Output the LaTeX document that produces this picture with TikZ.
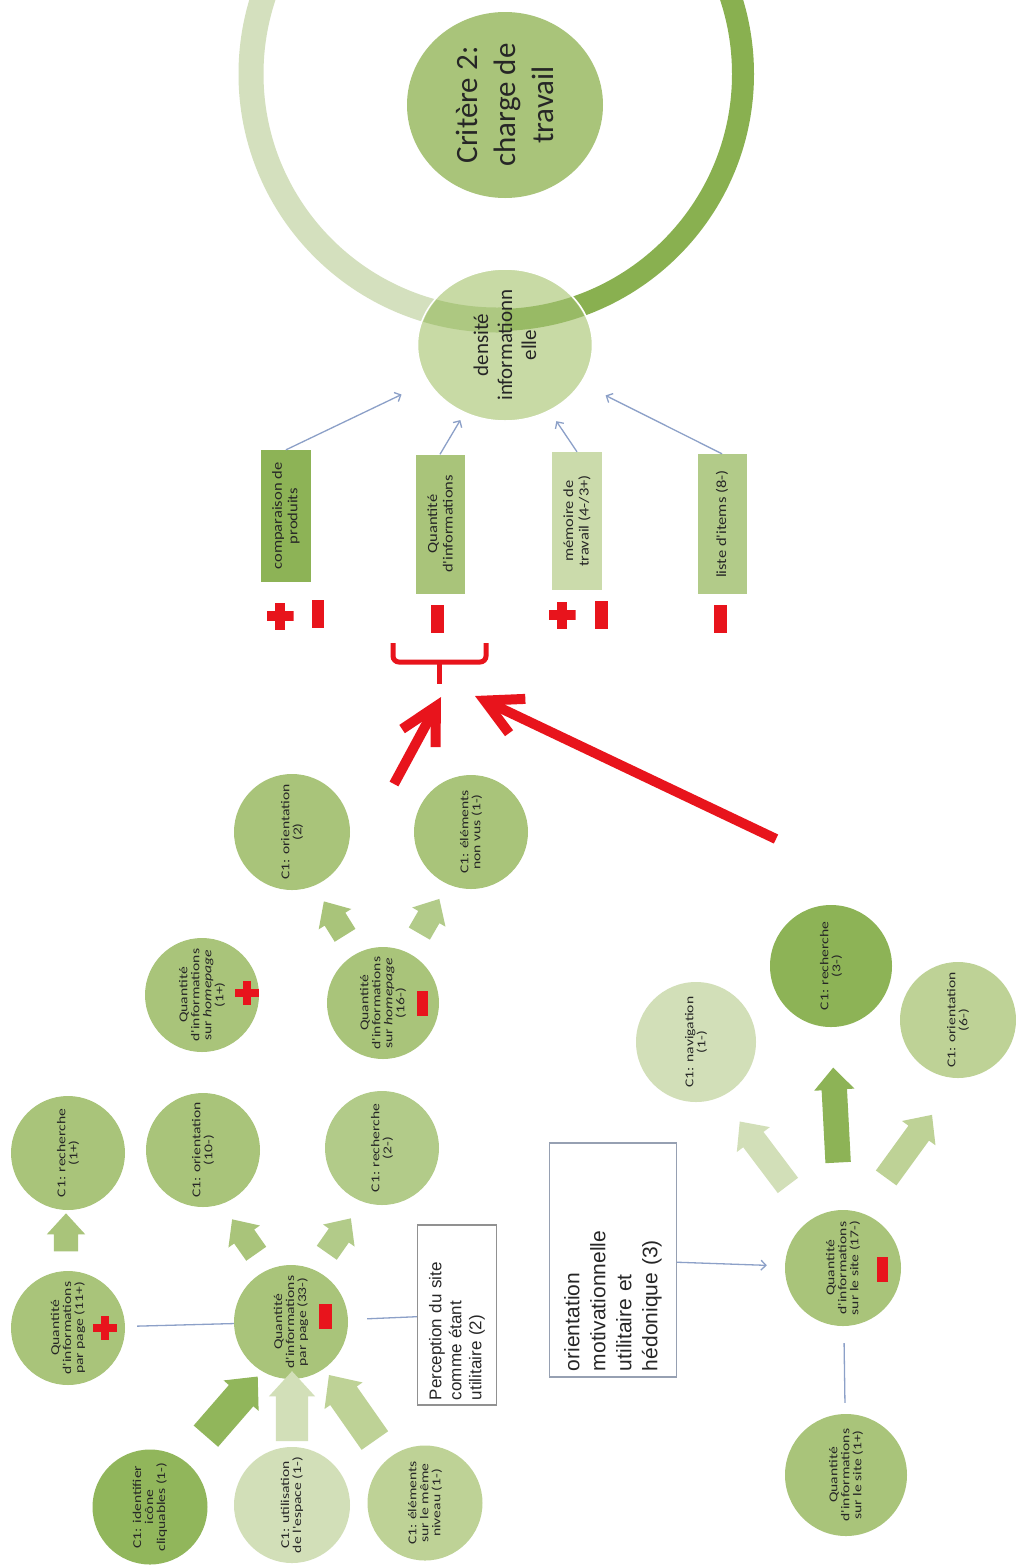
\documentclass[tikz,border=0pt]{standalone}
\usepackage{fontspec}
\setmainfont{Carlito}
\newfontfamily\arialf{Liberation Sans}
\newfontfamily\cstretch[FakeStretch=1.3]{Carlito}
\newfontfamily\bstretch[FakeStretch=1.18]{Carlito}
\usetikzlibrary{shapes.geometric,shapes.arrows,arrows.meta}
\definecolor{gmid}{RGB}{169,196,122}
\definecolor{gmidl}{RGB}{178,203,137}
\definecolor{gdark}{RGB}{141,179,86}
\definecolor{glight}{RGB}{210,223,184}
\definecolor{glmid}{RGB}{190,210,150}
\definecolor{gdens}{RGB}{200,218,165}
\definecolor{ringl}{RGB}{212,224,190}
\definecolor{ringd}{RGB}{137,176,80}
\definecolor{connblue}{RGB}{140,160,200}
\definecolor{boxgray}{RGB}{145,145,145}
\definecolor{boxblue}{RGB}{150,160,178}
\definecolor{redc}{RGB}{232,20,28}
\begin{document}
\begin{tikzpicture}[x=1pt,y=-1pt,
  circ/.style={circle, minimum size=#1, inner sep=0pt, rotate=90, align=center,
    font=\cstretch\fontsize{12}{12}\selectfont, text=black!85},
  gbox/.style={rectangle, inner sep=2pt, rotate=90, align=center,
    font=\bstretch\fontsize{14}{15.5}\selectfont, text=black!85},
  fat/.style={single arrow, draw=none, inner xsep=0pt, minimum width=0pt, single arrow tip angle=85},
  redbar/.style={rectangle, fill=redc, inner sep=0pt},
  redplus/.style={rectangle, inner sep=0pt, minimum size=#1,
    path picture={
      \fill[redc] ([xshift=-0.5*#1 pt, yshift=-0.18*#1 pt]path picture bounding box.center) rectangle ++(#1 pt,0.36*#1 pt);
      \fill[redc] ([xshift=-0.18*#1 pt, yshift=-0.5*#1 pt]path picture bounding box.center) rectangle ++(0.36*#1 pt,#1 pt);
    }},
  thinarrow/.style={draw=connblue, line width=1.3pt, -{Straight Barb[length=5pt,width=10pt]}},
  thinline/.style={draw=connblue, line width=1.3pt},
  redarrow/.style={draw=redc, line width=10pt, -{Straight Barb[length=36pt,width=38pt]}},
  bracket/.style={draw=redc, line width=5pt}
]
\useasboundingbox (0,0) rectangle (1016,1567);
\fill[white] (0,0) rectangle (1016,1567);

% ---- ring ----
\coordinate (rc) at (497,74);
\begin{scope}
  \clip (0,0) rectangle (505,600);
  \draw[ringl, line width=25pt] (rc) circle[radius=246];
\end{scope}
\begin{scope}
  \clip (505,0) rectangle (1016,600);
  \draw[ringd, line width=22pt] (rc) circle[radius=246];
\end{scope}

\node[ellipse, fill=gmid, minimum width=186, minimum height=196, inner sep=0pt, rotate=90,
  align=center, font=\fontsize{31}{38}\selectfont, text=black!85] (crit) at (505,105)
  {Critère 2:\\charge de\\travail};

\node[ellipse, fill=gdens, draw=white, line width=1.5pt,
  minimum width=152, minimum height=175, inner sep=0pt, rotate=90] (dens) at (505,345) {};
\begin{scope}
  \clip (505,345) ellipse[x radius=86, y radius=75];
  \begin{scope}
    \clip (0,0) rectangle (505,600);
    \draw[gdark, opacity=0.45, line width=25pt] (rc) circle[radius=246];
  \end{scope}
  \begin{scope}
    \clip (505,0) rectangle (1016,600);
    \draw[ringd, opacity=0.75, line width=22pt] (rc) circle[radius=246];
  \end{scope}
\end{scope}
\node[rotate=90, align=center, font=\fontsize{21}{24}\selectfont, text=black!85] (denstext) at (dens.center)
  {densité\\informationn\\elle};

% ---- boxes ----
\node[gbox, fill=gdark, minimum width=132, minimum height=50] (cmp) at (286,516) {comparaison de\\produits};
\node[gbox, fill=gmid, minimum width=139, minimum height=49] (qty) at (440,524) {Quantité\\d'informations};
\node[gbox, fill=glmid!80!white, minimum width=138, minimum height=50] (mem) at (577,521) {mémoire de\\travail (4-/3+)};
\node[gbox, fill=gmidl, minimum width=140, minimum height=49] (lst) at (722,524) {liste d'items (8-)};

\draw[thinarrow, shorten >=29pt] (cmp.east) -- (dens);
\draw[thinarrow, shorten >=8pt] (qty.east) -- (dens);
\draw[thinarrow, shorten >=12pt] (mem.east) -- (dens);
\draw[thinarrow, shorten >=27pt] (lst.east) -- (dens);

% ---- red signs ----
\node[redplus=27] (p1) at (280,616) {};
\node[redbar, minimum width=12, minimum height=28] (m1) at (318,614) {};
\node[redbar, minimum width=13, minimum height=28] (m2) at (437,619) {};
\node[redplus=27] (p3) at (562,615) {};
\node[redbar, minimum width=13, minimum height=28] (m3) at (601,615) {};
\node[redbar, minimum width=13, minimum height=28] (m4) at (720,619) {};

% ---- bracket ----
\coordinate (bA) at (393,643);
\coordinate (bB) at (393,662);
\coordinate (bC) at (486,662);
\coordinate (bD) at (486,643);
\coordinate (bM) at (439,662);
\coordinate (bS) at (439,684);
\draw[bracket, rounded corners=6pt] (bA) -- (bB) -- (bC) -- (bD);
\draw[bracket] (bM) -- (bS);

% ---- red arrows ----
\coordinate (r1s) at (394,784);
\coordinate (r1e) at (441,697);
\coordinate (r2s) at (776,839);
\coordinate (r2e) at (475,696);
\draw[redarrow] (r1s) -- (r1e);
\draw[redarrow] (r2s) -- (r2e);

% ---- group: homepage ----
\node[circ=116, fill=gmid] (ori2) at (292,832) {C1: orientation\\(2)};
\node[circ=114, fill=gmid] (nonvus) at (471,832) {C1: éléments\\non vus (1-)};
\node[circ=112, fill=gmid] (hp16) at (383,1003) {Quantité\\d'informations\\sur \textit{homepage}\\(16-)};
\node[circ=114, fill=gmid] (hp1) at (202,995) {Quantité\\d'informations\\sur \textit{homepage}\\(1+)};
\node[redplus=24] (p4) at (247,993) {};
\node[redbar, minimum width=11, minimum height=25] (m5) at (422,1003) {};
\node[fat, fill=gmid, minimum height=40, inner ysep=12pt, single arrow head extend=7, rotate=122] (fa1) at (338,924) {};
\node[fat, fill=gmidl, minimum height=40, inner ysep=12pt, single arrow head extend=7, rotate=60] (fa2) at (426,922) {};

% ---- group: par page ----
\node[circ=114, fill=gmid] (rech1) at (68,1153) {C1: recherche\\(1+)};
\node[circ=114, fill=gmid] (ori10) at (203,1150) {C1: orientation\\(10-)};
\node[circ=114, fill=gmidl] (rech2) at (382,1148) {C1: recherche\\(2-)};
\node[circ=114, fill=gmid] (q11) at (68,1328) {Quantité\\d'informations\\par page (11+)};
\node[circ=114, fill=gmid] (q33) at (291,1322) {Quantité\\d'informations\\par page (33-)};
\node[redplus=24] (p5) at (105,1328) {};
\node[redbar, minimum width=13, minimum height=25] (m6) at (325,1316) {};
\node[fat, fill=gmid, minimum height=38, inner ysep=12pt, single arrow head extend=7, rotate=90] (fa3) at (66,1239) {};
\node[fat, fill=gmid, minimum height=42, inner ysep=12pt, single arrow head extend=7, rotate=125] (fa4) at (248,1242) {};
\node[fat, fill=gmidl, minimum height=42, inner ysep=12pt, single arrow head extend=7, rotate=55] (fa5) at (335,1241) {};

\node[circ=115, fill=gdark!85!gmid] (ident) at (150,1507) {C1: identifier\\icône\\cliquables (1-)};
\node[circ=116, fill=glight] (util) at (292,1505) {C1: utilisation\\de l'espace (1-)};
\node[circ=115, fill=glmid] (elem) at (425,1503) {C1: éléments\\sur le même\\niveau (1-)};
\node[fat, fill=gdark!85!gmid, minimum height=79, inner ysep=16pt, single arrow head extend=7, rotate=49] (fa6) at (226,1413) {};
\node[fat, fill=glight, minimum height=70, inner ysep=16pt, single arrow head extend=7, rotate=90] (fa7) at (292,1415) {};
\node[fat, fill=glmid, minimum height=80, inner ysep=16pt, single arrow head extend=7, rotate=125] (fa8) at (357,1415) {};

\node[rectangle, draw=boxgray, line width=1.2pt, fill=white, rotate=90, minimum width=180,
  minimum height=79, text width=170, inner sep=5pt, align=left,
  font=\arialf\fontsize{17}{20}\selectfont, text=black!85] (perc) at (457,1315)
  {Perception du site\\comme étant\\utilitaire (2)};

\draw[thinline, shorten <=12pt] (q11) -- (q33);
\draw[thinline, shorten <=19pt] (q33) -- (perc);

% ---- group: sur le site ----
\node[circ=120, fill=glight] (nav) at (696,1042) {C1: navigation\\(1-)};
\node[circ=122, fill=gdark] (rech3) at (831,966) {C1: recherche\\(3-)};
\node[circ=116, fill=glmid] (ori6) at (958,1020) {C1: orientation\\(6-)};
\node[circ=116, fill=gmid] (q17) at (843,1268) {Quantité\\d'informations\\sur le site (17-)};
\node[circ=122, fill=gmid] (qs1) at (846,1475) {Quantité\\d'informations\\sur le site (1+)};
\node[redbar, minimum width=11, minimum height=25] (m7) at (882,1269) {};
\node[fat, fill=glight, minimum height=80, inner ysep=12.5pt, single arrow head extend=8, rotate=127] (fa9) at (768,1159) {};
\node[fat, fill=gdark, minimum height=95, inner ysep=12.5pt, single arrow head extend=7.5, rotate=93] (fa10) at (836,1122) {};
\node[fat, fill=glmid, minimum height=78, inner ysep=12.5pt, single arrow head extend=8, rotate=54] (fa11) at (905,1152) {};

\node[rectangle, draw=boxblue, line width=1.2pt, fill=white, rotate=90, minimum width=234,
  minimum height=127, text width=222, inner sep=6pt, align=left,
  font=\arialf\fontsize{21}{26}\selectfont, text=black!85] (orient) at (613,1260)
  {orientation\\motivationnelle\\utilitaire et\\hédonique (3)};

\draw[thinarrow, shorten >=18pt] (orient) -- (q17);
\draw[thinline, shorten <=17pt, shorten >=11pt] (q17) -- (qs1);
\end{tikzpicture}
\end{document}
